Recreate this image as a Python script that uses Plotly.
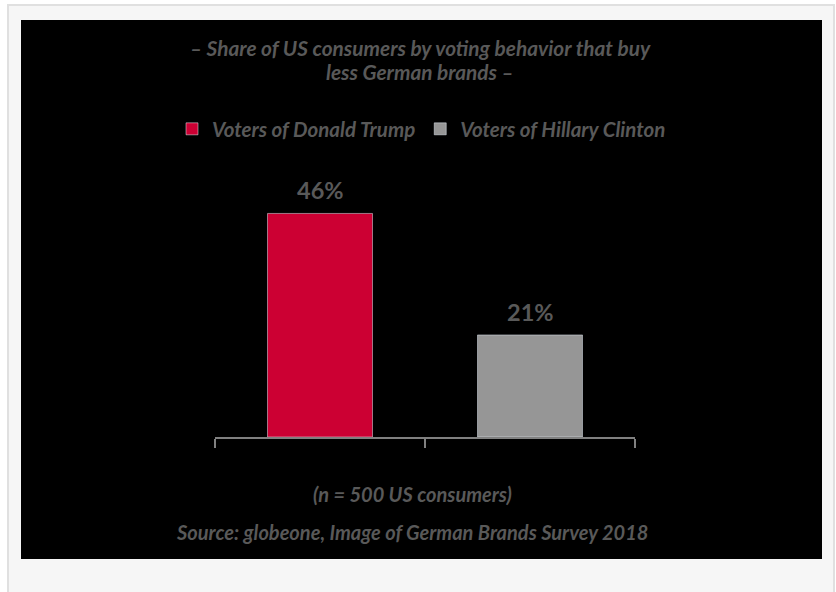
import plotly.graph_objects as go

categories = ["Voters of Donald Trump", "Voters of Hillary Clinton"]
values = [46, 21]
labels = ["46%", "21%"]
colors = ["#CC0033", "#969696"]

title_lines = ["– Share of US consumers by voting behavior that buy", "less German brands –"]
note = "(n = 500 US consumers)"
source = "Source: globeone, Image of German Brands Survey 2018"

W, H = 836, 592
L, R, T, B = 215, 201, 194, 155
PW, PH = W - L - R, H - T - B

def px(x):
    return (x - L) / PW

def py(y):
    return 1 - (y - T) / PH

FONT = "Lato, 'Open Sans', sans-serif"
TXT = "#595959"

fig = go.Figure()
for c, v, col in zip(categories, values, colors):
    fig.add_trace(go.Bar(
        x=[c], y=[v], name=c, marker_color=col, width=0.5,
    ))

shapes = [
    dict(type="rect", xref="paper", yref="paper", layer="below",
         x0=px(8), x1=px(834), y0=py(5), y1=py(640),
         fillcolor="#f6f6f6", line=dict(color="#e0e0e0", width=2)),
    dict(type="rect", xref="paper", yref="paper", layer="below",
         x0=px(21), x1=px(822), y0=py(20), y1=py(559),
         fillcolor="#000000", line=dict(width=0)),
]

title_font = dict(family=FONT, size=20.8, color=TXT, style="italic", weight="bold")
foot_font = dict(family=FONT, size=20, color=TXT, style="italic", weight="bold")
annotations = [
    dict(text=title_lines[0], x=px(420), y=py(47), xref="paper", yref="paper",
         showarrow=False, xanchor="center", yanchor="middle", font=title_font),
    dict(text=title_lines[1], x=px(420), y=py(72), xref="paper", yref="paper",
         showarrow=False, xanchor="center", yanchor="middle", font=title_font),
    dict(text=note, x=px(412), y=py(494), xref="paper", yref="paper",
         showarrow=False, xanchor="center", yanchor="middle", font=foot_font),
    dict(text=source, x=px(412), y=py(532), xref="paper", yref="paper",
         showarrow=False, xanchor="center", yanchor="middle", font=foot_font),
]
for c, v, lab in zip(categories, values, labels):
    annotations.append(dict(text=lab, x=c, y=v, xref="x", yref="y", showarrow=False,
                            xanchor="center", yanchor="bottom", yshift=7,
                            font=dict(family=FONT, size=23.5, color=TXT, weight="bold")))

fig.update_layout(
    width=W, height=H,
    margin=dict(l=L, r=R, t=T, b=B, autoexpand=False),
    paper_bgcolor="#ffffff",
    plot_bgcolor="#000000",
    barmode="relative",
    shapes=shapes,
    annotations=annotations,
    showlegend=True,
    legend=dict(orientation="h", xref="paper", yref="paper",
                x=px(172), xanchor="left", y=py(129), yanchor="middle",
                bgcolor="rgba(0,0,0,0)",
                font=dict(family=FONT, size=20.5, color=TXT, style="italic", weight="bold"),
                itemwidth=30),
    xaxis=dict(range=[-0.5, 1.5], showticklabels=False, showgrid=False, zeroline=False,
               showline=True, linecolor="#808080", linewidth=2,
               ticks="outside", tickson="boundaries", ticklen=9, tickcolor="#808080", tickwidth=2),
    yaxis=dict(range=[0, 50], visible=False, showgrid=False, zeroline=False),
)

fig.write_html("out.html")
